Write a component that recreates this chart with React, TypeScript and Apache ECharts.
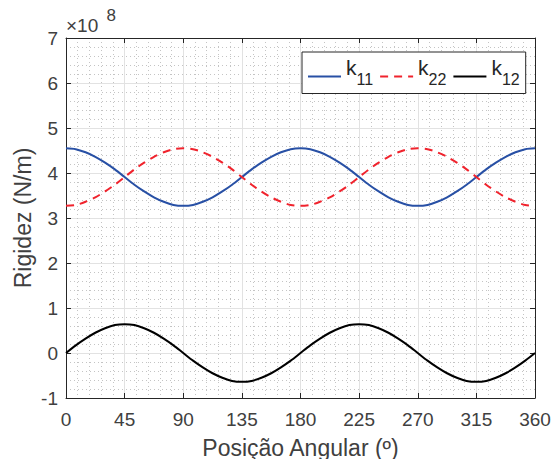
import React, { useEffect, useRef } from "react";
import * as echarts from "echarts";

// Angular position (degrees)
const angles: number[] = [
  0, 7.5, 15, 22.5, 30, 37.5, 45, 52.5, 60, 67.5, 75, 82.5, 90, 97.5, 105, 112.5, 120, 127.5, 135, 142.5, 150,
  157.5, 165, 172.5, 180, 187.5, 195, 202.5, 210, 217.5, 225, 232.5, 240, 247.5, 255, 262.5, 270, 277.5, 285,
  292.5, 300, 307.5, 315, 322.5, 330, 337.5, 345, 352.5, 360,
];

// Stiffness values (x 10^8 N/m)
const k11: number[] = [
  4.55, 4.53, 4.46, 4.36, 4.23, 4.08, 3.91, 3.74, 3.59, 3.46, 3.36, 3.29, 3.27, 3.29, 3.36, 3.46, 3.59, 3.74, 3.91,
  4.08, 4.23, 4.36, 4.46, 4.53, 4.55, 4.53, 4.46, 4.36, 4.23, 4.08, 3.91, 3.74, 3.59, 3.46, 3.36, 3.29, 3.27, 3.29,
  3.36, 3.46, 3.59, 3.74, 3.91, 4.08, 4.23, 4.36, 4.46, 4.53, 4.55,
];
const k22: number[] = [
  3.27, 3.29, 3.36, 3.46, 3.59, 3.74, 3.91, 4.08, 4.23, 4.36, 4.46, 4.53, 4.55, 4.53, 4.46, 4.36, 4.23, 4.08, 3.91,
  3.74, 3.59, 3.46, 3.36, 3.29, 3.27, 3.29, 3.36, 3.46, 3.59, 3.74, 3.91, 4.08, 4.23, 4.36, 4.46, 4.53, 4.55, 4.53,
  4.46, 4.36, 4.23, 4.08, 3.91, 3.74, 3.59, 3.46, 3.36, 3.29, 3.27,
];
const k12: number[] = [
  0, 0.17, 0.32, 0.45, 0.55, 0.62, 0.64, 0.62, 0.55, 0.45, 0.32, 0.17, 0, -0.17, -0.32, -0.45, -0.55, -0.62, -0.64,
  -0.62, -0.55, -0.45, -0.32, -0.17, 0, 0.17, 0.32, 0.45, 0.55, 0.62, 0.64, 0.62, 0.55, 0.45, 0.32, 0.17, 0, -0.17,
  -0.32, -0.45, -0.55, -0.62, -0.64, -0.62, -0.55, -0.45, -0.32, -0.17, 0,
];

const seriesNames = ["k11", "k22", "k12"];
const xTicks = { min: 0, max: 360, interval: 45 };
const yTicks = { min: -1, max: 7, interval: 1 };
const scaleBase = "×10";
const scaleExp = "8";

const FONT = "Liberation Sans, Arial, sans-serif";
const AX = "#262626";
const LABEL = "#404040";

export default function App() {
  const ref = useRef<HTMLDivElement>(null);
  useEffect(() => {
    if (!ref.current) return;
    const chart = echarts.init(ref.current, null, { renderer: "svg" });
    const pair = (ys: number[]) => angles.map((a, i) => [a, ys[i]]);
    const baseX = {
      type: "value" as const,
      min: xTicks.min,
      max: xTicks.max,
      interval: xTicks.interval,
      axisLine: { show: true, onZero: false, lineStyle: { color: AX, width: 1 } },
      axisTick: { show: true, inside: true, length: 5, lineStyle: { color: AX } },
    };
    const baseY = {
      type: "value" as const,
      min: yTicks.min,
      max: yTicks.max,
      interval: yTicks.interval,
      axisLine: { show: true, onZero: false, lineStyle: { color: AX, width: 1 } },
      axisTick: { show: true, inside: true, length: 5, lineStyle: { color: AX } },
    };
    const labelOnlyTopX = {
      ...baseX,
      position: "top" as const,
      axisLine: { show: false },
      axisTick: { show: false },
      splitLine: { show: false },
    };
    chart.setOption({
      animation: false,
      backgroundColor: "#ffffff",
      textStyle: { fontFamily: FONT },
      grid: { left: 66, right: 17, top: 38, bottom: 61, containLabel: false, outerBoundsMode: "none" },
      xAxis: [
        {
          ...baseX,
          position: "bottom",
          name: "Posição Angular (º)",
          nameLocation: "middle",
          nameGap: 38,
          nameMoveOverlap: false,
          nameTextStyle: { fontSize: 23, color: LABEL, fontFamily: FONT },
          axisLabel: { fontSize: 19, color: LABEL, margin: 12, fontFamily: FONT },
          splitLine: { show: true, lineStyle: { color: "#e2e2e2", width: 1 } },
          minorTick: { show: false, splitNumber: 5 },
          minorSplitLine: { show: true, lineStyle: { color: "#c4c4c4", width: 1, type: [1, 3] } },
        },
        {
          ...baseX,
          position: "top",
          axisLabel: { show: false },
          splitLine: { show: false },
        },
        {
          ...labelOnlyTopX,
          axisLabel: {
            show: true,
            customValues: [0],
            formatter: (v: number) => (v === 0 ? scaleBase : ""),
            align: "left",
            margin: 3,
            fontSize: 19,
            color: LABEL,
            fontFamily: FONT,
          },
        },
        {
          ...labelOnlyTopX,
          axisLabel: {
            show: true,
            customValues: [31],
            formatter: (v: number) => (v === 31 ? scaleExp : ""),
            align: "left",
            margin: 14,
            fontSize: 17,
            color: LABEL,
            fontFamily: FONT,
          },
        },
      ],
      yAxis: [
        {
          ...baseY,
          position: "left",
          name: "Rigidez (N/m)",
          nameLocation: "middle",
          nameGap: 32,
          nameMoveOverlap: false,
          nameTextStyle: { fontSize: 23, color: LABEL, fontFamily: FONT },
          axisLabel: { fontSize: 19, color: LABEL, margin: 8, fontFamily: FONT },
          splitLine: { show: true, lineStyle: { color: "#e2e2e2", width: 1 } },
          minorTick: { show: false, splitNumber: 5 },
          minorSplitLine: { show: true, lineStyle: { color: "#c4c4c4", width: 1, type: [1, 3] } },
        },
        {
          ...baseY,
          position: "right",
          axisLabel: { show: false },
          splitLine: { show: false },
        },
      ],
      legend: {
        left: 302,
        top: 52,
        orient: "horizontal",
        data: seriesNames,
        backgroundColor: "#ffffff",
        borderColor: AX,
        borderWidth: 1,
        borderRadius: 0,
        padding: [5, 6, 5, 5],
        itemGap: 6,
        itemWidth: 33,
        itemHeight: 30,
        itemStyle: { opacity: 0 },
        formatter: (name: string) => `{k|k}{s|${name.slice(1)}}`,
        textStyle: {
          color: AX,
          fontFamily: FONT,
          rich: {
            k: { fontSize: 21, fontFamily: FONT, color: AX, lineHeight: 21, verticalAlign: "bottom", padding: [0, 0, 9, 0] },
            s: { fontSize: 16, fontFamily: FONT, color: AX, lineHeight: 16, verticalAlign: "bottom" },
          },
        },
      },
      series: [
        {
          name: "k11",
          type: "line",
          data: pair(k11),
          symbol: "none",
          smooth: 0.3,
          lineStyle: { color: "#2850a5", width: 2 },
          itemStyle: { color: "#2850a5" },
        },
        {
          name: "k22",
          type: "line",
          data: pair(k22),
          symbol: "none",
          smooth: 0.3,
          lineStyle: { color: "#f0232d", width: 2, type: [8, 6] },
          itemStyle: { color: "#f0232d" },
        },
        {
          name: "k12",
          type: "line",
          data: pair(k12),
          symbol: "none",
          smooth: 0.3,
          lineStyle: { color: "#000000", width: 2 },
          itemStyle: { color: "#000000" },
        },
      ],
    });
    return () => chart.dispose();
  }, []);
  return <div ref={ref} style={{ position: "fixed", left: 0, top: 0, width: 552, height: 459 }} />;
}
